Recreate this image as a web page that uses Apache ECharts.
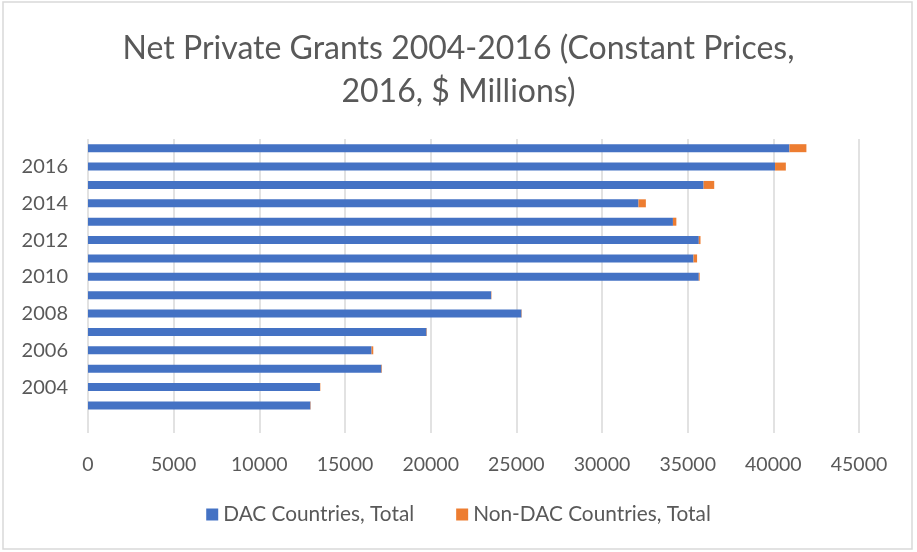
<!DOCTYPE html>
<html>
<head>
<meta charset="utf-8">
<script src="https://cdn.jsdelivr.net/npm/echarts@6/dist/echarts.min.js"></script>
<style>
  html, body { margin: 0; padding: 0; background: #fff; }
  #chart { width: 917px; height: 552px; }
</style>
</head>
<body>
<div id="chart"></div>
<script>
// Category rows, bottom to top (the first row is an empty spacer row)
const years = ['', '2003', '2004', '2005', '2006', '2007', '2008', '2009', '2010',
               '2011', '2012', '2013', '2014', '2015', '2016', '2017'];
// Net private grants, constant 2016 US$ millions
const dacTotal = [null, 12980, 13540, 17130, 16550, 19760, 25300, 23530, 35650,
                  35340, 35650, 34140, 32130, 35930, 40100, 40940];
const nonDacTotal = [null, 20, 20, 30, 100, 20, 20, 20, 50,
                     210, 100, 200, 430, 620, 630, 990];
const xTicks = [0, 5000, 10000, 15000, 20000, 25000, 30000, 35000, 40000, 45000];

const FONT = 'Lato, "Open Sans", sans-serif';
const TXT = '#595959';

const chart = echarts.init(document.getElementById('chart'), null, { renderer: 'canvas' });
chart.setOption({
  animation: false,
  backgroundColor: '#fff',
  title: {
    text: 'Net Private Grants 2004-2016 (Constant Prices,\n2016, $ Millions)',
    left: 'center',
    top: 22,
    textStyle: { fontFamily: FONT, fontSize: 32, fontWeight: 'normal', color: TXT, lineHeight: 43 }
  },
  graphic: [{
    type: 'rect',
    shape: { x: 3, y: 2, width: 909, height: 547 },
    style: { fill: 'none', stroke: '#d9d9d9', lineWidth: 1.5 },
    silent: true
  }],
  legend: {
    top: 499,
    left: 'center',
    itemWidth: 12,
    itemHeight: 12,
    itemGap: 42,
    icon: 'rect',
    textStyle: { fontFamily: FONT, fontSize: 20.8, color: TXT },
    data: ['DAC Countries, Total', 'Non-DAC Countries, Total']
  },
  grid: { left: 88, right: 58, top: 139, bottom: 119, containLabel: false },
  xAxis: {
    type: 'value',
    min: xTicks[0],
    max: xTicks[xTicks.length - 1],
    interval: 5000,
    axisLine: { show: false },
    axisTick: { show: false },
    splitLine: { lineStyle: { color: '#d9d9d9', width: 1.5 } },
    axisLabel: {
      fontFamily: FONT, fontSize: 19.5, color: TXT, margin: 22,
      formatter: function (v) { return String(v); }
    }
  },
  yAxis: {
    type: 'category',
    data: years,
    axisLine: { show: false },
    axisTick: { show: false },
    axisLabel: {
      fontFamily: FONT, fontSize: 20, color: TXT, margin: 20,
      interval: function (i, v) { return v !== '' && Number(v) % 2 === 0; }
    }
  },
  series: [
    {
      name: 'DAC Countries, Total',
      type: 'bar',
      stack: 'total',
      data: dacTotal,
      barWidth: 8,
      itemStyle: { color: '#4472C4' }
    },
    {
      name: 'Non-DAC Countries, Total',
      type: 'bar',
      stack: 'total',
      data: nonDacTotal,
      barWidth: 8,
      itemStyle: { color: '#ED7D31' }
    }
  ]
});
</script>
</body>
</html>
